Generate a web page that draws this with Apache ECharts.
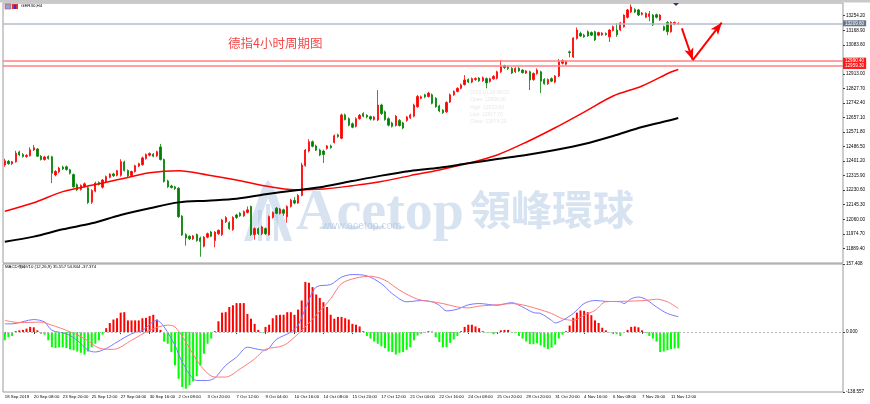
<!DOCTYPE html>
<html>
<head>
<meta charset="utf-8">
<script src="https://cdn.jsdelivr.net/npm/echarts@6/dist/echarts.min.js"></script>
<style>
html, body { margin: 0; padding: 0; background: #fff; }
#chart { width: 870px; height: 404px; }
</style>
</head>
<body>
<div id="chart"></div>
<script>
// GER30 H4 bars: [open, high, low, close]
const ohlc = [
  [12378,12415,12368,12403],[12400,12408,12380,12386],[12386,12402,12378,12398],[12397,12462,12392,12448],
  [12455,12462,12430,12437],[12440,12448,12422,12428],[12428,12442,12420,12434],[12432,12482,12428,12468],
  [12466,12496,12460,12480],[12472,12478,12425,12430],[12430,12436,12405,12410],[12410,12432,12404,12425],
  [12428,12435,12410,12416],[12427,12432,12272,12330],[12320,12348,12312,12340],[12338,12368,12330,12360],
  [12366,12374,12348,12355],[12368,12375,12345,12352],[12350,12356,12322,12330],[12322,12328,12245,12250],
  [12262,12270,12225,12232],[12235,12265,12228,12258],[12252,12276,12245,12268],[12245,12252,12150,12158],
  [12160,12236,12150,12228],[12225,12280,12218,12272],[12276,12282,12258,12265],[12248,12296,12240,12290],
  [12282,12316,12276,12310],[12306,12330,12300,12325],[12326,12332,12308,12315],[12318,12350,12312,12345],
  [12318,12412,12310,12398],[12396,12404,12340,12346],[12346,12352,12305,12315],[12316,12345,12308,12340],
  [12340,12380,12334,12374],[12372,12392,12366,12386],[12380,12428,12374,12420],[12416,12446,12410,12440],
  [12436,12452,12428,12446],[12442,12448,12424,12430],[12432,12462,12426,12456],[12484,12502,12405,12410],
  [12410,12416,12275,12282],[12285,12292,12244,12250],[12255,12262,12240,12246],[12250,12256,12232,12240],
  [12242,12248,12068,12075],[12078,12084,11962,11968],[11970,11978,11905,11950],[11960,11966,11938,11945],
  [11945,11968,11938,11962],[11970,11976,11928,11935],[11950,11958,11840,11930],[11902,11962,11895,11955],
  [11955,11982,11948,11975],[11985,11992,11955,11960],[11935,11990,11895,11985],[11975,12000,11968,11995],
  [11970,12062,11962,12055],[12045,12078,12038,12070],[12040,12048,11998,12005],[12000,12078,11992,12070],
  [12085,12092,12062,12070],[12095,12102,12074,12080],[12080,12112,12074,12105],[12100,12135,12094,12115],
  [12135,12140,11962,11970],[11970,12012,11940,12005],[12005,12012,11968,11975],[11975,12022,11966,12015],
  [12005,12012,11968,11975],[11970,12082,11964,12075],[12070,12106,12064,12100],[12125,12132,12090,12095],
  [12095,12126,12088,12120],[12115,12122,12080,12095],[12075,12142,12040,12135],[12135,12180,12128,12172],
  [12170,12190,12148,12155],[12155,12208,12150,12200],[12200,12392,12195,12378],[12375,12472,12368,12466],
  [12460,12530,12452,12515],[12515,12522,12482,12488],[12490,12498,12460,12465],[12466,12474,12430,12437],
  [12460,12468,12390,12440],[12475,12496,12468,12490],[12490,12498,12474,12480],[12510,12558,12504,12550],
  [12555,12562,12538,12545],[12535,12680,12530,12672],[12672,12680,12640,12645],[12650,12658,12605,12612],
  [12620,12628,12594,12600],[12605,12658,12598,12650],[12650,12678,12644,12670],[12680,12688,12658,12665],
  [12670,12676,12652,12660],[12662,12668,12640,12648],[12645,12666,12638,12660],[12642,12818,12636,12730],
  [12730,12738,12672,12680],[12690,12698,12638,12645],[12650,12658,12605,12612],[12625,12632,12598,12605],
  [12610,12672,12604,12665],[12640,12648,12604,12610],[12625,12632,12588,12595],[12640,12666,12632,12660],
  [12655,12680,12648,12672],[12665,12738,12658,12730],[12720,12790,12714,12780],[12770,12786,12764,12778],
  [12790,12796,12770,12778],[12780,12808,12774,12800],[12790,12798,12734,12740],[12770,12776,12714,12720],
  [12725,12732,12688,12695],[12700,12706,12678,12685],[12690,12752,12684,12745],[12748,12798,12742,12790],
  [12790,12816,12784,12810],[12810,12834,12804,12828],[12828,12856,12822,12848],[12850,12906,12844,12877],
  [12880,12886,12858,12865],[12865,12892,12858,12885],[12880,12892,12872,12886],[12888,12894,12866,12872],
  [12872,12898,12866,12890],[12885,12892,12828,12860],[12868,12890,12862,12884],[12884,12906,12878,12898],
  [12887,12932,12880,12925],[12925,12994,12918,12955],[12960,12966,12942,12950],[12952,12958,12936,12944],
  [12945,12952,12912,12918],[12925,12952,12918,12945],[12946,12952,12925,12930],[12935,12940,12915,12920],
  [12918,12935,12912,12930],[12925,12932,12818,12877],[12880,12922,12872,12915],[12915,12945,12908,12935],
  [12925,12932,12800,12870],[12880,12888,12850,12855],[12855,12886,12848,12880],[12885,12892,12864,12870],
  [12865,12906,12858,12900],[12900,13000,12894,12985],[12975,12998,12968,12990],[12970,12990,12962,12985],
  [13042,13050,13010,13038],[13012,13128,13006,13123],[13120,13185,13114,13170],[13150,13160,13130,13135],
  [13140,13148,13124,13130],[13160,13168,13130,13135],[13155,13162,13135,13140],[13160,13166,13106,13112],
  [13140,13160,13134,13155],[13142,13158,13136,13152],[13150,13156,13138,13143],[13130,13176,13100,13170],
  [13168,13196,13162,13190],[13170,13210,13130,13142],[13170,13218,13164,13212],[13190,13262,13184,13258],
  [13245,13294,13238,13288],[13276,13320,13270,13305],[13290,13298,13270,13276],[13288,13294,13252,13258],
  [13262,13276,13256,13270],[13245,13274,13240,13268],[13250,13282,13222,13265],[13258,13264,13194,13200],
  [13260,13266,13238,13245],[13230,13264,13224,13258],[13190,13196,13164,13170],[13215,13222,13140,13160],
  [13160,13222,13154,13215],[13205,13220,13198,13215],[13205,13215,13200,13209.6]
];

// moving averages, [bar index, value]
const maRed = [[0,12107],[8,12157],[16,12222],[24,12259],[32,12296],[40,12333],[48,12345],[56,12320],
  [64,12290],[72,12255],[80,12233],[88,12237],[96,12257],[104,12281],[112,12316],[120,12349],[128,12388],
  [136,12437],[144,12512],[152,12597],[160,12689],[168,12783],[176,12842],[184,12924],[186,12939]];
const maBlack = [[0,11928],[8,11958],[16,12001],[24,12036],[32,12085],[40,12124],[48,12159],[56,12169],
  [64,12180],[72,12206],[80,12229],[88,12251],[96,12284],[104,12316],[112,12343],[120,12362],[128,12388],
  [136,12413],[144,12437],[152,12466],[160,12501],[168,12548],[176,12601],[184,12642],[186,12654]];

// MACD histogram, one value per bar
const hist = [
  -19,-12,-9,2,4,5,8,12,11,4,
  -4,-6,-19,-35,-37,-35,-35,-37,-40,-42,
  -45,-48,-52,-45,-35,-27,-19,-6,9,21,
  29,32,45,46,27,27,27,27,32,33,
  37,40,29,5,-22,-27,-46,-77,-108,-127,
  -131,-123,-114,-102,-77,-50,-27,-15,2,25,
  45,46,58,62,67,67,67,42,31,19,
  5,-1,12,17,32,39,40,40,46,46,
  40,52,73,116,114,104,87,79,69,58,
  40,31,35,35,32,29,19,17,13,2,
  -9,-15,-22,-27,-33,-37,-45,-46,-52,-48,
  -46,-41,-35,-19,-8,-4,-2,2,1,-12,
  -23,-35,-35,-25,-17,-9,2,12,17,17,
  13,9,2,-1,-1,-5,-1,4,5,5,
  -2,-2,-9,-15,-22,-28,-28,-26,-31,-35,
  -39,-36,-29,-15,-6,2,15,33,45,50,
  49,46,39,27,21,10,4,-1,-4,-5,
  -9,-1,5,12,13,11,4,-2,-9,-15,
  -22,-46,-45,-42,-39,-38,-37.374
];
const macdLine = [[0,19],[2,19],[8,29],[11,23],[13,4],[17,-4],[20,-19],[23,-42],[25,-46],[28,-38],
  [31,-23],[35,-4],[38,4],[42,27],[44,12],[47,-31],[49,-69],[53,-112],[56,-112],[58,-106],[61,-77],
  [64,-58],[67,-35],[70,-40],[72,-42],[75,-17],[79,0],[81,16],[83,54],[86,104],[90,110],[93,127],
  [96,133],[100,130],[104,112],[107,89],[111,70],[115,73],[118,70],[120,62],[122,49],[125,53],[128,63],
  [131,66],[136,62],[140,68],[143,58],[146,45],[148,43],[151,27],[152,21],[154,27],[157,43],[160,66],
  [163,73],[166,71],[170,70],[171,66],[173,77],[175,81],[177,76],[180,58],[183,43],[186,35.557]];
const signalLine = [[0,27],[4,22],[10,23],[13,16],[17,4],[22,-15],[26,-37],[30,-40],[35,-19],[40,4],
  [45,16],[47,12],[50,-23],[54,-77],[58,-104],[61,-104],[65,-85],[69,-62],[72,-40],[77,-31],[81,-4],
  [86,39],[90,77],[93,112],[97,125],[101,129],[105,120],[109,97],[114,76],[118,70],[121,66],[125,58],
  [128,56],[131,60],[136,63],[140,66],[143,63],[147,54],[151,43],[154,31],[157,27],[160,39],[163,50],
  [166,70],[170,71],[174,72],[177,73],[180,76],[183,70],[186,54.844]];

// axis labels
const timeLabels = ['18 Sep 2019','20 Sep 08:00','23 Sep 20:00','25 Sep 12:00','27 Sep 04:00','30 Sep 16:00',
  '2 Oct 08:00','3 Oct 20:00','7 Oct 12:00','9 Oct 04:00','10 Oct 16:00','14 Oct 08:00','15 Oct 20:00',
  '17 Oct 12:00','21 Oct 04:00','22 Oct 16:00','24 Oct 08:00','25 Oct 20:00','29 Oct 20:00','31 Oct 20:00',
  '4 Nov 16:00','6 Nov 08:00','7 Nov 20:00','11 Nov 12:00'];
const priceTicks = [11889.4,11974.7,12060.0,12145.3,12230.6,12315.9,12401.2,12486.5,12571.8,12657.1,
  12742.4,12827.7,12913.0,13083.6,13168.9,13254.2];
const macdTicks = [-138.557, 0, 157.408];

// levels and the drawn arrows
const bidPrice = 13209.6;
const levels = [12990.4, 12959.3];
const arrowPts = [[186.5, 13180], [189.8, 12994], [198.4, 13213]];

const SLOTS = 232; // bar slots across the window, right part empty
const LABEL_STEP = 8;
const cats = [];
for (let i = 0; i < SLOTS; i++) cats.push(String(i));

const RED = '#ff0000';
const GREEN = '#008000';
const WM = 'rgba(160,188,222,0.42)'; // watermark tint
const smallFont = { fontFamily: 'Liberation Sans', fontSize: 4.6, color: '#000' };

const chart = echarts.init(document.getElementById('chart'));

const lvlLabel = (txt, bg) => ({
  show: true, position: 'end', formatter: txt, distance: 0,
  color: '#fff', backgroundColor: bg, padding: [1, 2, 0, 2],
  fontFamily: 'Liberation Sans', fontSize: 4.6
});

const option = {
  animation: false,
  backgroundColor: '#fff',
  textStyle: { fontFamily: 'Liberation Sans' },
  grid: [
    { left: 3, right: 27, top: 3, height: 260, show: true, borderColor: '#9a9a9a', borderWidth: 1 },
    { left: 3, right: 27, top: 264, height: 128, show: true, borderColor: '#9a9a9a', borderWidth: 1 }
  ],
  xAxis: [
    { type: 'category', gridIndex: 0, data: cats, boundaryGap: true,
      axisLine: { show: false }, axisTick: { show: false }, axisLabel: { show: false }, splitLine: { show: false } },
    { type: 'category', gridIndex: 1, data: cats, boundaryGap: true,
      axisLine: { show: false },
      axisTick: { show: true, alignWithLabel: true, length: 2,
        interval: (idx) => idx % LABEL_STEP === 0 && idx / LABEL_STEP < timeLabels.length,
        lineStyle: { color: '#444' } },
      axisLabel: Object.assign({}, smallFont, {
        interval: (idx) => idx % LABEL_STEP === 0 && idx / LABEL_STEP < timeLabels.length,
        formatter: (v, idx) => timeLabels[idx / LABEL_STEP] || '',
        align: 'left', margin: 3, fontSize: 4.3 }),
      splitLine: { show: false } }
  ],
  yAxis: [
    { type: 'value', gridIndex: 0, position: 'right', min: 11803.3, max: 13328.7, scale: true,
      axisLine: { show: false }, splitLine: { show: false },
      axisTick: { show: true, length: 2, customValues: priceTicks, lineStyle: { color: '#444' } },
      axisLabel: Object.assign({}, smallFont, { customValues: priceTicks, margin: 3, formatter: (v) => v.toFixed(2) }) },
    { type: 'value', gridIndex: 1, position: 'right', min: -138.557, max: 157.408,
      axisLine: { show: false }, splitLine: { show: false },
      axisTick: { show: true, length: 2, customValues: macdTicks, lineStyle: { color: '#444' } },
      axisLabel: Object.assign({}, smallFont, { customValues: macdTicks, margin: 3, formatter: (v) => v.toFixed(3) }) }
  ],
  graphic: [
    { type: 'rect', shape: { x: 0, y: 0, width: 870, height: 2.5 }, style: { fill: '#c9c9c9' }, silent: true },
    // window icons + symbol title
    { type: 'rect', shape: { x: 5, y: 4, width: 6, height: 5 }, style: { fill: '#8aa6d8', stroke: '#c44', lineWidth: 0.6 }, silent: true },
    { type: 'rect', shape: { x: 12, y: 4, width: 6, height: 5 }, style: { fill: '#d33' }, silent: true },
    { type: 'rect', shape: { x: 14, y: 5, width: 2, height: 4 }, style: { fill: '#33c' }, silent: true },
    { type: 'text', x: 21, y: 4.2, style: { text: 'GER30,H4', fill: '#000', font: '4.4px "Liberation Sans"' }, silent: true },
    // shift marker
    { type: 'polygon', shape: { points: [[673, 3], [679, 3], [676, 6]] }, style: { fill: '#2c3e66' }, silent: true },
    // watermark
    { type: 'polygon', z: 0, silent: true,
      shape: { points: [[244, 241], [262, 188], [268, 180], [274, 188], [292, 241], [284, 241], [268, 198], [252, 241]] },
      style: { fill: WM } },
    { type: 'rect', z: 0, silent: true, shape: { x: 258, y: 210, width: 4, height: 31 }, style: { fill: WM } },
    { type: 'rect', z: 0, silent: true, shape: { x: 266, y: 204, width: 4, height: 37 }, style: { fill: WM } },
    { type: 'rect', z: 0, silent: true, shape: { x: 274, y: 210, width: 4, height: 31 }, style: { fill: WM } },
    { type: 'text', z: 0, silent: true, x: 296, y: 187,
      style: { text: 'Acetop', fill: WM, font: 'bold 56px "Liberation Serif"' } },
    { type: 'text', z: 0, silent: true, x: 470, y: 189,
      style: { text: '領峰環球', fill: WM, font: 'bold 41px "Noto Sans CJK TC"' } },
    { type: 'text', z: 0, silent: true, x: 322, y: 221,
      style: { text: 'www.acetop.com', fill: 'rgba(160,188,222,0.55)', font: '10.5px "Liberation Sans"' } },
    // faint data window
    { type: 'text', z: 0, silent: true, x: 470, y: 89,
      style: { text: '2019.10.24 08:00\nOpen: 12856.00\nHigh: 12913.80\nLow: 12817.70\nClose: 12874.20',
        fill: '#e8e8e8', font: '5px "Liberation Sans"', lineHeight: 7.3 } },
    // chart caption
    { type: 'text', x: 228, y: 36.5, silent: true,
      style: { text: '德指4小时周期图', fill: '#f24a4a', font: '12.5px "Noto Sans CJK SC"' } },
    { type: 'text', x: 5, y: 265, silent: true,
      style: { text: 'MACD领峰V10 (12,26,9) 35.557 54.844 -37.374', fill: '#000', font: '4.3px "Liberation Sans"' } }
  ],
  series: [
    {
      type: 'candlestick', xAxisIndex: 0, yAxisIndex: 0, z: 3,
      barMaxWidth: 2,
      data: ohlc.map(r => [r[0], r[3], r[2], r[1]]),
      itemStyle: { color: RED, color0: GREEN, borderColor: RED, borderColor0: GREEN, borderWidth: 0.8 },
      markLine: {
        silent: true, symbol: 'none', animation: false,
        data: [
          { yAxis: bidPrice, lineStyle: { color: '#b4bcc6', width: 1.5, type: 'solid' }, label: lvlLabel(bidPrice.toFixed(2), '#66778a') },
          { yAxis: levels[0], lineStyle: { color: '#ff8282', width: 1.6, type: 'solid' }, label: lvlLabel(levels[0].toFixed(2), '#ff1a1a') },
          { yAxis: levels[1], lineStyle: { color: '#ff8282', width: 1.6, type: 'solid' }, label: lvlLabel(levels[1].toFixed(2), '#ff1a1a') }
        ]
      }
    },
    {
      type: 'line', xAxisIndex: 0, yAxisIndex: 0, data: maRed, smooth: 0.3, showSymbol: false, z: 4,
      lineStyle: { color: RED, width: 1.5 },
      markLine: {
        silent: true, symbol: ['none', 'arrow'], symbolSize: [7, 12], animation: false,
        lineStyle: { color: RED, width: 2, type: 'solid' }, label: { show: false },
        data: [
          [{ coord: arrowPts[0] }, { coord: arrowPts[1] }],
          [{ coord: arrowPts[1] }, { coord: arrowPts[2] }]
        ]
      }
    },
    {
      type: 'line', xAxisIndex: 0, yAxisIndex: 0, data: maBlack, smooth: 0.3, showSymbol: false, z: 4,
      lineStyle: { color: '#000', width: 2 }
    },
    {
      type: 'bar', xAxisIndex: 1, yAxisIndex: 1, barWidth: 2,
      data: hist.map(v => ({ value: v, itemStyle: { color: v >= 0 ? RED : '#00ff00' } })),
      markLine: {
        silent: true, symbol: 'none', animation: false, label: { show: false },
        data: [{ yAxis: 0, lineStyle: { color: '#b8b8b8', width: 1, type: [2, 2] } }]
      }
    },
    {
      type: 'line', xAxisIndex: 1, yAxisIndex: 1, data: macdLine, smooth: 0.3, showSymbol: false,
      lineStyle: { color: '#7878ff', width: 1 }
    },
    {
      type: 'line', xAxisIndex: 1, yAxisIndex: 1, data: signalLine, smooth: 0.3, showSymbol: false,
      lineStyle: { color: '#ff7a7a', width: 1 }
    }
  ]
};

chart.setOption(option);
</script>
</body>
</html>
